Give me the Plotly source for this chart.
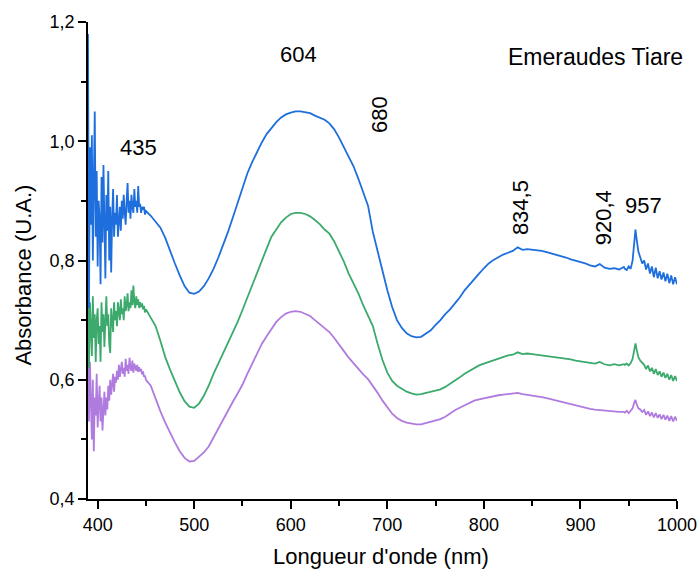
import plotly.graph_objects as go

# Wavelength grid (nm): 1 nm steps in the noisy UV end, 5 nm through the
# smooth bands, 2 nm around the 957 nm line and the red tail.
wl_noisy = list(range(390, 451))
wl_smooth = list(range(455, 950, 5))
wl_tail = [946, 948, 950, 952, 954, 956, 957, 958, 960, 962, 964, 966, 968,
           970, 972, 974, 976, 978, 980, 982, 984, 986, 988, 990, 992, 994,
           996, 998, 1000]

# Absorbance (U.A.) — upper spectrum (blue)
blue_noisy = [1.18, 0.72, 0.99, 0.86, 1.01, 0.80, 0.93, 1.05, 0.84, 0.95,
              0.79, 0.90, 0.87, 0.76, 0.94, 0.83, 0.96, 0.88, 0.77, 0.91,
              0.85, 0.95, 0.80, 0.89, 0.78, 0.87, 0.92, 0.84, 0.88, 0.86,
              0.91, 0.84, 0.87, 0.89, 0.85, 0.90, 0.87, 0.91, 0.88, 0.86,
              0.90, 0.93, 0.88, 0.90, 0.87, 0.91, 0.89, 0.88, 0.92, 0.89,
              0.90, 0.88, 0.925, 0.89, 0.895, 0.88, 0.89, 0.885, 0.89, 0.877,
              0.883]
blue_smooth = [0.875, 0.865, 0.855, 0.838, 0.815, 0.795, 0.775, 0.757, 0.746,
               0.744, 0.748, 0.757, 0.770, 0.786, 0.805, 0.826, 0.848, 0.872, 0.897,
               0.922, 0.946, 0.965, 0.983, 0.998, 1.012, 1.023, 1.032, 1.040, 1.045,
               1.048, 1.050, 1.050, 1.049, 1.047, 1.043, 1.040, 1.036, 1.030, 1.020,
               1.006, 0.990, 0.975, 0.958, 0.937, 0.915, 0.892, 0.848, 0.815, 0.780,
               0.750, 0.722, 0.700, 0.687, 0.678, 0.673, 0.671, 0.672, 0.677, 0.683,
               0.692, 0.700, 0.710, 0.718, 0.728, 0.738, 0.750, 0.760, 0.768, 0.778,
               0.787, 0.795, 0.801, 0.806, 0.810, 0.813, 0.816, 0.822, 0.818, 0.819,
               0.818, 0.818, 0.816, 0.814, 0.812, 0.810, 0.808, 0.805, 0.802, 0.800,
               0.797, 0.795, 0.792, 0.790, 0.794, 0.788, 0.786, 0.787, 0.785, 0.789]
blue_tail = [0.786, 0.784, 0.790, 0.786, 0.800, 0.845, 0.852, 0.838, 0.815,
             0.805, 0.795, 0.800, 0.785, 0.795, 0.778, 0.790, 0.772, 0.788,
             0.770, 0.782, 0.768, 0.780, 0.765, 0.778, 0.762, 0.775, 0.760,
             0.772, 0.760]

# Middle spectrum (green)
green_noisy = [0.76, 0.62, 0.73, 0.68, 0.64, 0.74, 0.67, 0.71, 0.63, 0.70,
               0.72, 0.66, 0.69, 0.63, 0.73, 0.68, 0.71, 0.655, 0.70, 0.74,
               0.69, 0.71, 0.66, 0.645, 0.72, 0.70, 0.68, 0.73, 0.70, 0.715,
               0.69, 0.73, 0.71, 0.70, 0.735, 0.71, 0.72, 0.70, 0.74, 0.715,
               0.725, 0.745, 0.715, 0.73, 0.72, 0.75, 0.725, 0.758, 0.73, 0.72,
               0.74, 0.725, 0.735, 0.72, 0.73, 0.722, 0.728, 0.718, 0.724, 0.713,
               0.718]
green_smooth = [0.705, 0.690, 0.665, 0.638, 0.617, 0.597, 0.579, 0.564, 0.555,
                0.553, 0.560, 0.573, 0.590, 0.610, 0.627, 0.644, 0.662, 0.680, 0.697,
                0.717, 0.738, 0.760, 0.779, 0.800, 0.820, 0.840, 0.853, 0.864, 0.872,
                0.878, 0.880, 0.880, 0.878, 0.874, 0.868, 0.861, 0.852, 0.845, 0.832,
                0.815, 0.798, 0.778, 0.762, 0.745, 0.725, 0.708, 0.690, 0.660, 0.633,
                0.612, 0.598, 0.590, 0.585, 0.580, 0.577, 0.575, 0.576, 0.578, 0.580,
                0.582, 0.584, 0.588, 0.593, 0.598, 0.604, 0.610, 0.615, 0.620, 0.624,
                0.627, 0.630, 0.633, 0.636, 0.639, 0.641, 0.642, 0.646, 0.643, 0.644,
                0.643, 0.642, 0.641, 0.640, 0.639, 0.638, 0.637, 0.635, 0.634, 0.632,
                0.631, 0.630, 0.629, 0.627, 0.630, 0.626, 0.624, 0.626, 0.624, 0.626]
green_tail = [0.625, 0.627, 0.624, 0.628, 0.635, 0.655, 0.661, 0.652, 0.638,
              0.632, 0.628, 0.625, 0.618, 0.624, 0.614, 0.620, 0.610, 0.618,
              0.608, 0.614, 0.605, 0.612, 0.603, 0.610, 0.600, 0.608, 0.598,
              0.606, 0.598]

# Lower spectrum (purple)
purple_noisy = [0.70, 0.53, 0.63, 0.56, 0.50, 0.60, 0.48, 0.57, 0.54, 0.61,
                0.52, 0.56, 0.59, 0.53, 0.57, 0.515, 0.56, 0.58, 0.54, 0.57,
                0.55, 0.59, 0.565, 0.60, 0.575, 0.59, 0.61, 0.58, 0.605, 0.595,
                0.615, 0.60, 0.625, 0.605, 0.615, 0.63, 0.61, 0.62, 0.605, 0.635,
                0.615, 0.625, 0.61, 0.637, 0.62, 0.615, 0.632, 0.612, 0.627, 0.62,
                0.615, 0.625, 0.613, 0.621, 0.614, 0.618, 0.609, 0.614, 0.605, 0.607,
                0.600]
purple_smooth = [0.590, 0.567, 0.547, 0.528, 0.510, 0.495, 0.480, 0.469, 0.463,
                 0.464, 0.471, 0.478, 0.488, 0.503, 0.520, 0.535, 0.550, 0.563, 0.577,
                 0.592, 0.610, 0.627, 0.644, 0.660, 0.673, 0.685, 0.697, 0.705, 0.711,
                 0.714, 0.715, 0.714, 0.711, 0.707, 0.700, 0.693, 0.687, 0.680, 0.670,
                 0.658, 0.648, 0.637, 0.627, 0.617, 0.609, 0.601, 0.590, 0.578, 0.565,
                 0.554, 0.543, 0.536, 0.531, 0.528, 0.526, 0.525, 0.525, 0.527, 0.529,
                 0.531, 0.534, 0.538, 0.544, 0.549, 0.553, 0.557, 0.561, 0.565, 0.567,
                 0.569, 0.571, 0.573, 0.574, 0.575, 0.576, 0.576, 0.578, 0.576, 0.575,
                 0.574, 0.573, 0.571, 0.569, 0.567, 0.565, 0.563, 0.561, 0.558, 0.556,
                 0.554, 0.552, 0.551, 0.550, 0.549, 0.548, 0.547, 0.547, 0.546, 0.546]
purple_tail = [0.545, 0.548, 0.544, 0.548, 0.552, 0.563, 0.566, 0.560, 0.552,
               0.550, 0.546, 0.549, 0.541, 0.547, 0.539, 0.545, 0.537, 0.544,
               0.536, 0.542, 0.534, 0.541, 0.533, 0.540, 0.531, 0.539, 0.530,
               0.538, 0.531]

# Band labels (nm) and where they sit
peak_labels = ["435", "604", "680", "834,5", "920,4", "957"]
peak_x = [442, 607.5, 692, 837.5, 923.5, 965]
peak_y = [0.990, 1.145, 1.045, 0.888, 0.871, 0.893]
peak_angle = [0, 0, -90, -90, -90, 0]

y_ticks = [0.4, 0.6, 0.8, 1.0, 1.2]
y_tick_text = ["0,4", "0,6", "0,8", "1,0", "1,2"]
x_ticks = [400, 500, 600, 700, 800, 900, 1000]

wavelength = wl_noisy + wl_smooth + wl_tail
series = [
    ("purple", purple_noisy + purple_smooth + purple_tail, "#B07BDF"),
    ("green", green_noisy + green_smooth + green_tail, "#3BAA6C"),
    ("blue", blue_noisy + blue_smooth + blue_tail, "#1E6FDD"),
]

FONT = "Liberation Sans, Arial, sans-serif"

fig = go.Figure()
for name, values, color in series:
    assert len(values) == len(wavelength), name
    fig.add_trace(go.Scatter(
        x=wavelength, y=values, mode="lines", name=name,
        line=dict(color=color, width=1.8), showlegend=False,
    ))

for text, x, y, ang in zip(peak_labels, peak_x, peak_y, peak_angle):
    fig.add_annotation(x=x, y=y, xref="x", yref="y", text=text, showarrow=False,
                       textangle=ang, font=dict(family=FONT, size=22, color="black"))

fig.add_annotation(x=916, y=1.141, xref="x", yref="y", text="Emeraudes Tiare",
                   showarrow=False, font=dict(family=FONT, size=23, color="black"))

# Axis titles
fig.add_annotation(x=-0.109, y=0.47, xref="paper", yref="paper",
                   text="Absorbance (U.A.)", textangle=-90, showarrow=False,
                   xanchor="center", yanchor="middle",
                   font=dict(family=FONT, size=22, color="black"))
fig.add_annotation(x=0.497, y=-0.12, xref="paper", yref="paper",
                   text="Longueur d'onde (nm)", showarrow=False,
                   xanchor="center", yanchor="middle",
                   font=dict(family=FONT, size=22, color="black"))

fig.update_layout(
    width=699, height=569,
    margin=dict(l=88, r=22, t=22, b=70, autoexpand=False),
    paper_bgcolor="white", plot_bgcolor="white",
    font=dict(family=FONT, color="black"),
)
fig.update_xaxes(
    range=[390, 1000], tickvals=x_ticks, ticks="outside", ticklen=8, tickwidth=1.5,
    tickcolor="black", showline=True, linecolor="black", linewidth=1.8,
    showgrid=False, zeroline=False, tickfont=dict(size=18), automargin=False,
    minor=dict(dtick=50, tick0=400, ticks="outside", ticklen=5, tickwidth=1.5,
               tickcolor="black", showgrid=False),
)
fig.update_yaxes(
    range=[0.4, 1.2], tickvals=y_ticks, ticktext=y_tick_text, ticks="outside",
    ticklen=8, tickwidth=1.5, tickcolor="black", showline=True, linecolor="black",
    linewidth=1.8, showgrid=False, zeroline=False, tickfont=dict(size=18),
    automargin=False,
    minor=dict(dtick=0.1, tick0=0.4, ticks="outside", ticklen=5, tickwidth=1.5,
               tickcolor="black", showgrid=False),
)

fig.write_html("out.html")
